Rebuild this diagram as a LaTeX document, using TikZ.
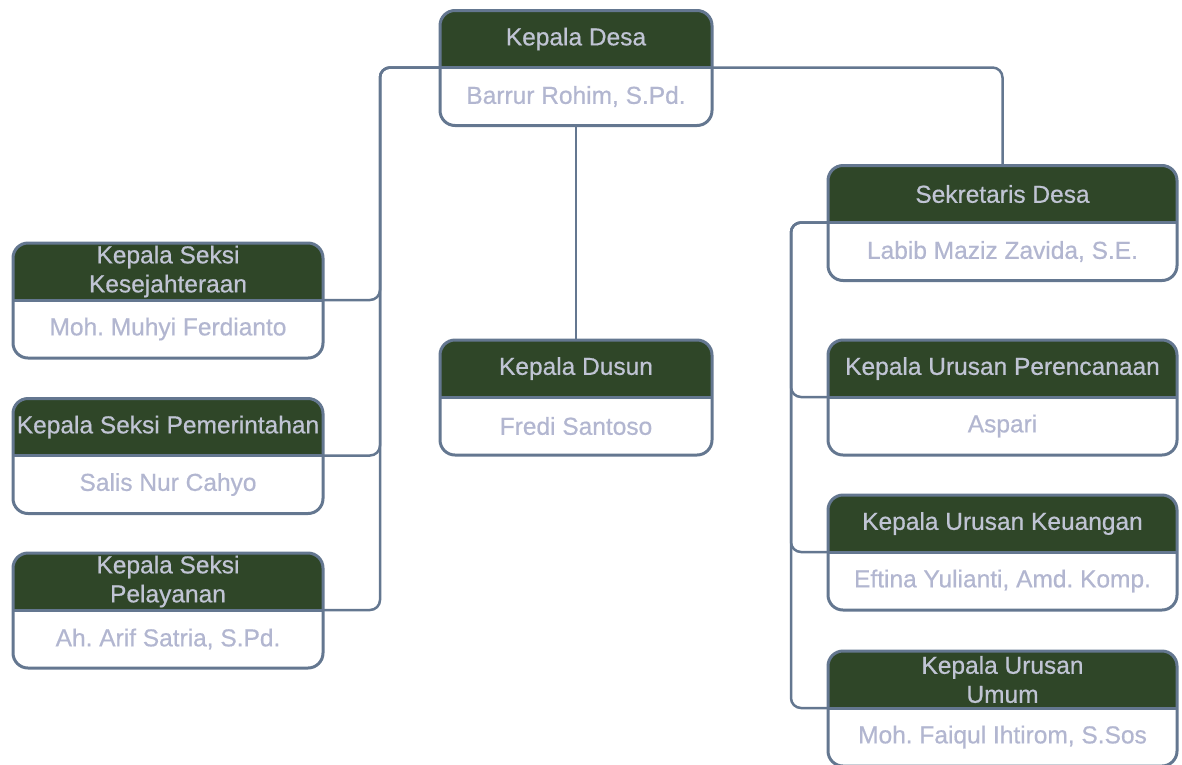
\documentclass[tikz,border=0pt]{standalone}
\usepackage{fontspec}
\setmainfont{Liberation Sans}
\newfontfamily\hurufkotak{Liberation Sans}[FakeBold=0.6]
\usetikzlibrary{positioning,backgrounds}
\frenchspacing

\definecolor{hijautua}{RGB}{47,70,40}
\definecolor{garisbiru}{RGB}{100,119,144}
\definecolor{teksjudul}{RGB}{192,196,212}
\definecolor{teksnama}{RGB}{178,182,208}

\tikzset{
  judul/.style={minimum height=57pt, inner sep=0pt, outer sep=0pt, text=teksjudul,
    align=center, font=\hurufkotak\fontsize{24.5}{29}\selectfont\frenchspacing},
  nama/.style={judul, minimum height=58pt, text=teksnama},
  kiri/.style={minimum width=310pt},
  tengah/.style={minimum width=272pt},
  kanan/.style={minimum width=349pt},
  bingkaigaris/.style={draw=garisbiru, line width=3pt, rounded corners=15pt},
  hubung/.style={draw=garisbiru, line width=2.5pt, rounded corners=10pt}
}

% kotak jabatan: kepala hijau + bagian nama putih
\newcommand{\bingkai}[1]{%
  \begin{pgfonlayer}{background}
    \begin{scope}
      \clip[rounded corners=15pt] (#1.north west) rectangle (#1-n.south east);
      \fill[hijautua] (#1.north west) rectangle (#1.south east);
      \fill[white] (#1-n.north west) rectangle (#1-n.south east);
    \end{scope}
  \end{pgfonlayer}
  \draw[bingkaigaris] (#1.north west) rectangle (#1-n.south east);
  \draw[garisbiru, line width=3pt] (#1.south west) -- (#1.south east);}

\begin{document}
\begin{tikzpicture}[x=1pt,y=-1pt]
  \useasboundingbox (0,0) rectangle (1182,764);

  % kepala desa
  \node[judul,tengah] (desa) at (576,39) {Kepala Desa};
  \node[nama,tengah,below=0pt of desa] (desa-n) {Barrur Rohim, S.Pd.};

  % seksi (kiri)
  \node[judul,kiri] (kes) at (168,271.5) {Kepala Seksi\\Kesejahteraan};
  \node[nama,kiri,below=0pt of kes] (kes-n) {Moh. Muhyi Ferdianto};
  \node[judul,kiri] (pem) at (168,427) {Kepala Seksi Pemerintahan};
  \node[nama,kiri,below=0pt of pem] (pem-n) {Salis Nur Cahyo};
  \node[judul,kiri] (pel) at (168,581.5) {Kepala Seksi\\Pelayanan};
  \node[nama,kiri,below=0pt of pel] (pel-n) {Ah. Arif Satria, S.Pd.};

  % dusun
  \node[judul,tengah] (dusun) at (576,368.5) {Kepala Dusun};
  \node[nama,tengah,below=0pt of dusun] (dusun-n) {Fredi Santoso};

  % sekretaris dan urusan (kanan)
  \node[judul,kanan] (sek) at (1002.5,194) {Sekretaris Desa};
  \node[nama,kanan,below=0pt of sek] (sek-n) {Labib Maziz Zavida, S.E.};
  \node[judul,kanan] (ren) at (1002.5,368.5) {Kepala Urusan Perencanaan};
  \node[nama,kanan,below=0pt of ren] (ren-n) {Aspari};
  \node[judul,kanan] (uang) at (1002.5,523.5) {Kepala Urusan Keuangan};
  \node[nama,kanan,below=0pt of uang] (uang-n) {Eftina Yulianti, Amd. Komp.};
  \node[judul,kanan] (umum) at (1002.5,679.5) {Kepala Urusan\\Umum};
  \node[nama,kanan,below=0pt of umum] (umum-n) {Moh. Faiqul Ihtirom, S.Sos};

  % garis hubung
  \foreach \k in {kes,pem,pel}
    \draw[hubung] (desa.south west) -- ++(-60,0) |- (\k.south east);
  \draw[hubung] (desa.south east) -| (sek.north);
  \draw[hubung] (desa-n.south) -- (dusun.north);
  \foreach \k in {ren,uang,umum}
    \draw[hubung] (sek.south west) -- ++(-37,0) |- (\k.south west);

  \foreach \k in {desa,kes,pem,pel,dusun,sek,ren,uang,umum}
    \bingkai{\k};
\end{tikzpicture}
\end{document}
